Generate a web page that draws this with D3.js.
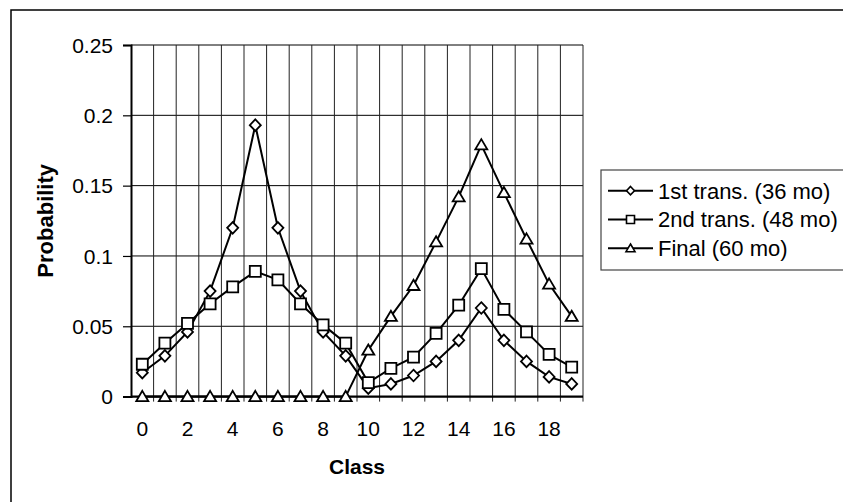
<!DOCTYPE html>
<html>
<head>
<meta charset="utf-8">
<script src="https://cdn.jsdelivr.net/npm/d3@7"></script>
<style>
    body { margin: 0; background: #fff; }
    svg text { font-family: "Liberation Sans", Arial, sans-serif; fill: #000; }
    .axis-label { font-weight: bold; }
</style>
</head>
<body>
<div id="chart"></div>
<script>
// classes on the x axis
const classes = d3.range(0, 20);
const xLabels = [0, 2, 4, 6, 8, 10, 12, 14, 16, 18];
const yTicks = [0, 0.05, 0.1, 0.15, 0.2, 0.25];

const firstTrans = [0.017, 0.029, 0.046, 0.075, 0.12, 0.193, 0.12, 0.075, 0.046, 0.029,
                    0.006, 0.009, 0.015, 0.025, 0.04, 0.063, 0.04, 0.025, 0.014, 0.009];
const secondTrans = [0.023, 0.038, 0.052, 0.066, 0.078, 0.089, 0.083, 0.066, 0.051, 0.038,
                     0.01, 0.02, 0.028, 0.045, 0.065, 0.091, 0.062, 0.046, 0.03, 0.021];
const finalDist = [0, 0, 0, 0, 0, 0, 0, 0, 0, 0,
                   0.033, 0.057, 0.079, 0.11, 0.142, 0.179, 0.145, 0.112, 0.08, 0.057];

const seriesNames = ["1st trans. (36 mo)", "2nd trans. (48 mo)", "Final (60 mo)"];
const seriesShapes = ["diamond", "square", "triangle"];

class ProbChart {
    constructor() {
        this.width = 843;
        this.height = 502;
        this.plot = { left: 131, right: 583, top: 45, bottom: 396.6 };
        this.series = [firstTrans, secondTrans, finalDist].map((vals, i) => ({
            name: seriesNames[i],
            shape: seriesShapes[i],
            values: vals.map((v, j) => ({ c: classes[j], v: v }))
        }));
        this.drawPlot();
    }

    marker(shape, s) {
        // s = half size
        if (shape === "diamond") return `M0,${-s * 1.05}L${s},0L0,${s * 1.05}L${-s},0Z`;
        if (shape === "square") return `M${-s},${-s}H${s}V${s}H${-s}Z`;
        return `M0,${-s * 0.95}L${s},${s * 0.75}L${-s},${s * 0.75}Z`;
    }

    drawPlot() {
        const p = this.plot;
        let svg = d3.select("#chart").append("svg")
            .attr("width", this.width)
            .attr("height", this.height);

        // chart frame (runs off the right/bottom edge)
        svg.append("rect")
            .attr("x", 11).attr("y", 10)
            .attr("width", 900).attr("height", 600)
            .attr("fill", "#fff")
            .attr("stroke", "#000")
            .attr("stroke-width", 1.5);

        this.xScale = d3.scaleBand().domain(classes).range([p.left, p.right]).padding(0);
        this.yScale = d3.scaleLinear().domain([0, 0.25]).range([p.bottom, p.top]);
        const x = this.xScale, y = this.yScale;
        const bw = x.bandwidth();
        const cx = c => x(c) + bw / 2;

        // horizontal gridlines
        svg.append("g").selectAll("line")
            .data(yTicks.slice(1))
            .join("line")
            .attr("x1", p.left).attr("x2", p.right)
            .attr("y1", d => y(d)).attr("y2", d => y(d))
            .attr("stroke", "#000").attr("stroke-width", 1);

        // vertical gridlines at category boundaries
        const bounds = classes.slice(1).map(c => x(c)).concat([p.right]);
        svg.append("g").selectAll("line")
            .data(bounds)
            .join("line")
            .attr("x1", d => d).attr("x2", d => d)
            .attr("y1", p.top).attr("y2", p.bottom + 5)
            .attr("stroke", "#222").attr("stroke-width", 1);

        // y axis
        let yAxis = svg.append("g")
            .attr("transform", `translate(${p.left}, 0)`)
            .call(d3.axisLeft(y).tickValues(yTicks).tickSize(8).tickPadding(10)
                .tickFormat(d3.format("~g")));
        yAxis.select(".domain").attr("stroke-width", 2);
        yAxis.selectAll(".tick line").attr("stroke-width", 1.2);
        yAxis.selectAll("text").style("font-size", "21px").attr("dy", "0.35em");

        // x axis line
        svg.append("line")
            .attr("x1", p.left).attr("x2", p.right)
            .attr("y1", p.bottom).attr("y2", p.bottom)
            .attr("stroke", "#000").attr("stroke-width", 2.2);

        // x tick labels every 2 classes
        svg.append("g").selectAll("text")
            .data(xLabels)
            .join("text")
            .attr("x", d => cx(d))
            .attr("y", 436)
            .attr("text-anchor", "middle")
            .style("font-size", "21px")
            .text(d => d);

        // axis titles
        svg.append("text").classed("axis-label", true)
            .attr("x", (p.left + p.right) / 2).attr("y", 474)
            .attr("text-anchor", "middle")
            .style("font-size", "21px")
            .text("Class");

        svg.append("text").classed("axis-label", true)
            .attr("transform", `translate(53, ${(p.top + p.bottom) / 2}) rotate(-90)`)
            .attr("text-anchor", "middle")
            .style("font-size", "22px")
            .text("Probability");

        // lines
        const line = d3.line().x(d => cx(d.c)).y(d => y(d.v));
        svg.append("g").selectAll("path")
            .data(this.series)
            .join("path")
            .attr("d", d => line(d.values))
            .attr("fill", "none")
            .attr("stroke", "#000")
            .attr("stroke-width", 2);

        // markers
        this.series.forEach(s => {
            svg.append("g").selectAll("path")
                .data(s.values)
                .join("path")
                .attr("transform", d => `translate(${cx(d.c)}, ${y(d.v)})`)
                .attr("d", this.marker(s.shape, s.shape === "square" ? 5.5 : (s.shape === "diamond" ? 5.5 : 6)))
                .attr("fill", "#fff")
                .attr("stroke", "#000")
                .attr("stroke-width", 1.8);
        });

        this.drawLegend(svg);
    }

    drawLegend(svg) {
        let legend = svg.append("g");
        legend.append("rect")
            .attr("x", 601).attr("y", 170)
            .attr("width", 260).attr("height", 100)
            .attr("fill", "#fff")
            .attr("stroke", "#444")
            .attr("stroke-width", 1.2);

        let rows = legend.selectAll("g.row")
            .data(this.series)
            .join("g")
            .attr("class", "row")
            .attr("transform", (d, i) => `translate(0, ${190.7 + i * 28.8})`);

        rows.append("line")
            .attr("x1", 608).attr("x2", 653)
            .attr("stroke", "#000").attr("stroke-width", 2);

        rows.append("path")
            .attr("transform", "translate(630.5, 0)")
            .attr("d", d => this.marker(d.shape, d.shape === "triangle" ? 4.5 : 4))
            .attr("fill", "#fff")
            .attr("stroke", "#000")
            .attr("stroke-width", 1.6);

        rows.append("text")
            .attr("x", 658)
            .attr("dy", "0.36em")
            .style("font-size", "22px")
            .text(d => d.name);
    }
}

new ProbChart();
</script>
</body>
</html>
